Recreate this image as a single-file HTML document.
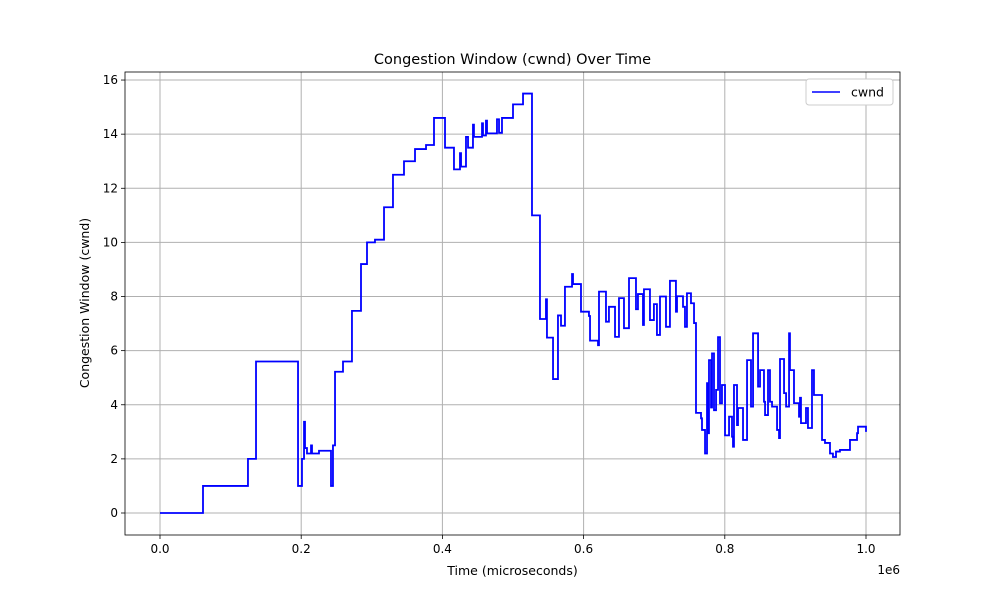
<!DOCTYPE html>
<html><head><meta charset="utf-8"><style>
body{margin:0;background:#fff;font-family:"Liberation Sans","DejaVu Sans",sans-serif}
svg text{font-family:"DejaVu Sans","Liberation Sans",sans-serif;fill:#000}
</style></head><body>
<svg id="c" width="1000" height="600"></svg>
<script>
const times=[0,60.9,124.6,136.0,195.5,201.1,204.0,205.4,208.2,213.9,215.3,225.2,242.2,245.0,247.9,259.2,271.9,284.7,293.2,304.5,317.3,330.0,345.6,361.2,376.8,388.1,403.7,416.4,424.9,426.4,433.4,436.3,443.3,444.7,456.1,457.5,461.7,463.2,477.3,480.2,484.4,500.0,514.2,526.9,538.2,546.7,548.1,556.7,563.7,568.0,573.6,583.6,585.0,596.3,607.6,609.1,620.4,621.8,631.7,635.9,644.5,650.1,657.2,664.3,674.2,677.0,684.1,685.5,694.0,699.6,703.9,708.2,716.7,722.3,730.8,732.3,740.8,743.6,746.4,752.1,756.4,759.2,766.3,767.7,772.0,774.8,776.2,777.6,780.5,781.9,784.7,787.6,790.4,793.2,796.0,800.3,806.0,810.2,811.6,813.0,817.3,818.7,825.8,831.5,837.1,840.0,847.1,849.9,855.5,857.0,861.2,864.0,866.9,874.0,876.8,878.2,883.9,886.8,891.0,892.3,898.0,905.1,906.5,907.9,915.0,917.8,923.5,926.3,933.4,937.7,941.9,949.0,953.2,957.5,963.1,977.3,987.3,988.7,1000];
const cwnd=[0,1,2,5.6,1.0,2.0,3.37,2.4,2.2,2.5,2.2,2.3,1.0,2.5,5.22,5.6,7.47,9.2,10.0,10.1,11.3,12.5,13.0,13.45,13.6,14.6,13.5,12.7,13.3,12.8,13.9,13.5,14.35,13.9,14.4,13.95,14.5,14.03,14.55,14.05,14.6,15.1,15.5,11.0,7.17,7.9,6.48,4.95,7.3,6.92,8.36,8.83,8.46,7.44,7.28,6.37,6.2,8.18,7.07,7.62,6.51,7.94,6.83,8.68,7.53,8.09,6.95,8.27,7.13,7.72,6.58,8.0,6.88,8.58,7.44,8.01,7.62,6.88,8.12,7.75,7.02,3.7,3.5,3.07,2.2,4.8,2.95,5.65,3.9,5.9,3.8,4.55,6.5,4.05,4.73,2.87,3.56,2.82,2.45,4.73,3.25,3.88,2.7,5.65,3.93,6.64,4.67,5.28,4.11,3.62,5.28,4.11,3.93,3.07,2.77,5.69,4.43,3.93,6.64,5.28,4.06,3.56,4.26,3.32,3.88,3.14,5.28,4.36,4.36,2.7,2.59,2.2,2.07,2.27,2.33,2.7,2.95,3.19,3.0,3.0];
const xTicks=[0,0.2,0.4,0.6,0.8,1.0];
const xTickLabels=["0.0","0.2","0.4","0.6","0.8","1.0"];
const yTicks=[0,2,4,6,8,10,12,14,16];
const NS="http://www.w3.org/2000/svg";
const svg=document.getElementById('c');
const L=125,R=900,T=72,B=535;
const sx=t=>160+t/1000*706;
const sy=v=>513-v*27.06;
function el(tag,attrs,parent){const e=document.createElementNS(NS,tag);for(const k in attrs)e.setAttribute(k,attrs[k]);(parent||svg).appendChild(e);return e;}
const grid=el('g',{});


xTicks.forEach((t,i)=>{const x=sx(t*1000);
 el('line',{x1:x,x2:x,y1:T,y2:B,stroke:'#b0b0b0','stroke-width':1},grid);
 el('line',{x1:x,x2:x,y1:B,y2:B+4,stroke:'#000','stroke-width':0.8});
 const tx=el('text',{x:x,y:B+18,'font-size':12,'text-anchor':'middle'});tx.textContent=xTickLabels[i];
 
 
});
yTicks.forEach(v=>{const y=sy(v);
 el('line',{x1:L,x2:R,y1:y,y2:y,stroke:'#b0b0b0','stroke-width':1},grid);
 el('line',{x1:L-4,x2:L,y1:y,y2:y,stroke:'#000','stroke-width':0.8});
 const tx=el('text',{x:L-7,y:y+4,'font-size':12,'text-anchor':'end'});tx.textContent=v;
 
 
});
let d='';
for(let i=0;i<times.length;i++){
 const x=sx(times[i]),y=sy(cwnd[i]);
 if(i===0)d+='M'+x+','+y;else d+='H'+x+'V'+y;
}
const line=el('path',{d:d,fill:'none',stroke:'#0000ff','stroke-width':1.8,'stroke-linejoin':'miter'});


const frame=el('rect',{x:L,y:T,width:R-L,height:B-T,fill:'none',stroke:'#000','stroke-width':0.8});


const title=el('text',{x:512.5,y:64,'font-size':14.5,'text-anchor':'middle'});title.textContent='Congestion Window (cwnd) Over Time';


const xl=el('text',{x:512.5,y:575,'font-size':12.5,'text-anchor':'middle'});xl.textContent='Time (microseconds)';


const yl=el('text',{x:89,y:303,'font-size':12.5,'text-anchor':'middle',transform:'rotate(-90 89 303)'});yl.textContent='Congestion Window (cwnd)';


const off=el('text',{x:900,y:574,'font-size':12,'text-anchor':'end'});off.textContent='1e6';


const lg=el('g',{});


el('rect',{x:806,y:79,width:87,height:26,rx:3,fill:'#fff',stroke:'#ccc','stroke-width':1},lg);
el('line',{x1:812,x2:840,y1:92,y2:92,stroke:'#0000ff','stroke-width':1.5},lg);
const lt=el('text',{x:851,y:96.5,'font-size':12.5},lg);lt.textContent='cwnd';
</script>
</body></html>
